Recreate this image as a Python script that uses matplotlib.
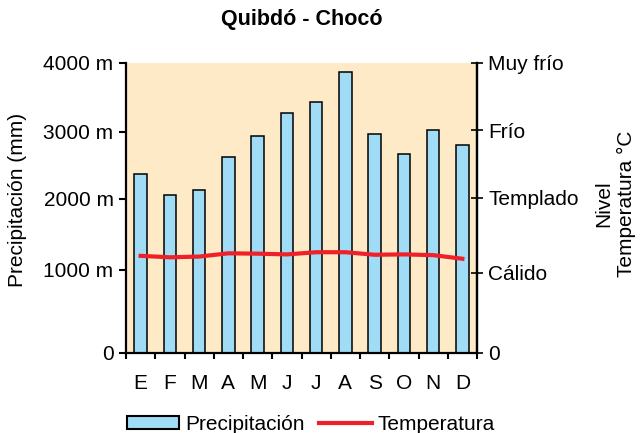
import matplotlib
matplotlib.use('Agg')
import matplotlib.pyplot as plt
from matplotlib.patches import Patch
from matplotlib.lines import Line2D

plt.rcParams['font.family'] = ['Liberation Sans', 'DejaVu Sans']

months = ['E', 'F', 'M', 'A', 'M', 'J', 'J', 'A', 'S', 'O', 'N', 'D']
precip = [2465, 2175, 2250, 2710, 3000, 3315, 3465, 3875, 3025, 2750, 3080, 2865]
temp = [26.8, 26.4, 26.6, 27.5, 27.4, 27.2, 27.8, 27.8, 27.1, 27.2, 27.0, 26.0]

left_ticks = [0, 1145, 2125, 3050, 4000]
left_labels = ['0', '1000 m', '2000 m', '3000 m', '4000 m']
right_ticks = [0, 22.1, 42.8, 61.5, 80]
right_labels = ['0', 'Cálido', 'Templado', 'Frío', 'Muy frío']

fs = 15

fig = plt.figure(figsize=(6.4, 4.33), dpi=100)
ax = fig.add_axes([126/640, 1 - 353/433, 351/640, 290/433])
ax.set_facecolor('#FEEAC6')

x = range(len(months))
ax.bar(x, precip, width=0.42, color='#A0DCF6', edgecolor='black', linewidth=1.1, zorder=2)
ax.set_xlim(-0.5, 11.5)
ax.set_ylim(0, 4000)

ax.set_xticks(list(x))
ax.set_xticklabels(months, fontsize=fs)
ax.set_xticks([i - 0.5 for i in range(13)], minor=True)
ax.tick_params(axis='x', which='major', length=0, pad=15)
ax.tick_params(axis='x', which='minor', length=4, width=1.5, direction='out')

ax.set_yticks(left_ticks)
ax.set_yticklabels(left_labels, fontsize=fs)
ax.tick_params(axis='y', length=5, width=1.5, direction='out', pad=4)

for s in ['left', 'bottom', 'right']:
    ax.spines[s].set_linewidth(1.6)
ax.spines['top'].set_visible(False)

ax2 = ax.twinx()
ax2.plot(x, temp, color='#EE2028', linewidth=3, zorder=3)
ax2.set_ylim(0, 80)
ax2.set_yticks(right_ticks)
ax2.set_yticklabels(right_labels, fontsize=fs)
ax2.tick_params(axis='y', length=8, width=1.2, direction='inout', pad=4)
ax2.spines['right'].set_linewidth(1.6)
ax2.spines['top'].set_visible(False)
ax2.spines['left'].set_visible(False)
ax2.spines['bottom'].set_visible(False)

fig.text(302/640, 1 - 20/433, 'Quibdó - Chocó', ha='center', va='center',
         fontsize=15.5, fontweight='bold')
fig.text(18/640, 1 - 200/433, 'Precipitación (mm)', rotation=90,
         ha='center', va='center', fontsize=fs)
fig.text(615/640, 1 - 204/433, 'Nivel\nTemperatura °C', rotation=90,
         ha='center', va='center', fontsize=fs, multialignment='center')

handles = [Patch(facecolor='#A0DCF6', edgecolor='black', linewidth=1.5),
           Line2D([], [], color='#EE2028', linewidth=3)]
fig.legend(handles, ['Precipitación', 'Temperatura'], loc='center',
           bbox_to_anchor=(311/640, 1 - 424/433), ncol=2, frameon=False,
           fontsize=fs, handlelength=2.5, handleheight=0.6,
           handletextpad=0.3, columnspacing=0.7)

fig.savefig('out.png', dpi=100)
